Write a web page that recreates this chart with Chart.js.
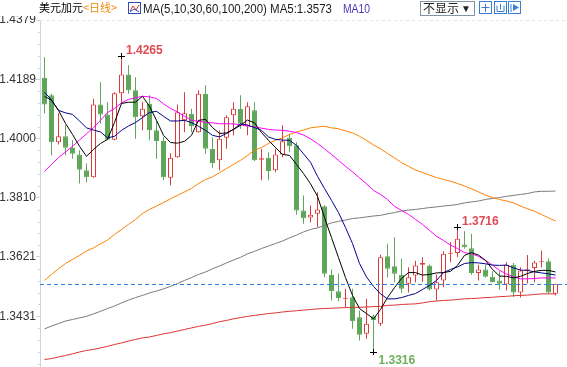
<!DOCTYPE html>
<html>
<head>
<meta charset="utf-8">
<script src="https://cdn.jsdelivr.net/npm/chart.js@4.4.0/dist/chart.umd.min.js"></script>
<style>
html, body { margin: 0; padding: 0; background: #fff; }
#wrap { width: 567px; height: 367px; position: relative; }
</style>
</head>
<body>
<div id="wrap"><canvas id="chart" width="567" height="367"></canvas></div>
<script>
// header texts
const pairName = '美元加元';
const periodName = '<日线>';
const maTitle = 'MA(5,10,30,60,100,200)';

// y axis tick labels
const yTicks = [1.3431, 1.3621, 1.3810, 1.4000, 1.4189, 1.4379];
const yMin = 1.3269;
const yMax = 1.4379;

// daily candles, oldest first
const opens = [1.4194, 1.4138, 1.3988, 1.4007, 1.3970, 1.3949, 1.3898, 1.3876, 1.4109, 1.4077,
  1.3996, 1.4145, 1.4205, 1.4154, 1.4071, 1.4111, 1.4026, 1.3992, 1.3874, 1.3940,
  1.4058, 1.4079, 1.4020, 1.4143, 1.3967, 1.3930, 1.4002, 1.4074, 1.4095, 1.4039,
  1.4090, 1.3932, 1.3938, 1.3898, 1.3949, 1.4002, 1.3978, 1.3770, 1.3747, 1.3759,
  1.3783, 1.3564, 1.3511, 1.3487, 1.3492, 1.3428, 1.3375, 1.3431, 1.3407, 1.3623,
  1.3591, 1.3564, 1.3535, 1.3562, 1.3596, 1.3594, 1.3517, 1.3546, 1.3631, 1.3634,
  1.3661, 1.3649, 1.3570, 1.3581, 1.3558, 1.3546, 1.3533, 1.3596, 1.3507, 1.3580,
  1.3586, 1.3604, 1.3607, 1.3503];
const highs = [1.4260, 1.4143, 1.4081, 1.4042, 1.3994, 1.3962, 1.3920, 1.4127, 1.4180, 1.4116,
  1.4148, 1.4265, 1.4234, 1.4196, 1.4116, 1.4138, 1.4058, 1.4004, 1.3953, 1.4109,
  1.4148, 1.4095, 1.4154, 1.4170, 1.4004, 1.4026, 1.4074, 1.4116, 1.4138, 1.4116,
  1.4116, 1.3967, 1.3956, 1.3967, 1.4042, 1.4015, 1.3988, 1.3818, 1.3786, 1.3828,
  1.3786, 1.3581, 1.3567, 1.3519, 1.3519, 1.3450, 1.3487, 1.3437, 1.3628, 1.3663,
  1.3684, 1.3615, 1.3588, 1.3609, 1.3620, 1.3597, 1.3565, 1.3639, 1.3668, 1.3716,
  1.3703, 1.3695, 1.3596, 1.3596, 1.3575, 1.3575, 1.3604, 1.3602, 1.3588, 1.3627,
  1.3609, 1.3642, 1.3617, 1.3535];
const lows = [1.4081, 1.3946, 1.3981, 1.3946, 1.3935, 1.3856, 1.3860, 1.3874, 1.4047, 1.3994,
  1.3994, 1.4111, 1.4143, 1.3999, 1.4026, 1.3994, 1.3935, 1.3866, 1.3850, 1.3938,
  1.4020, 1.4020, 1.4018, 1.3951, 1.3906, 1.3898, 1.3967, 1.4010, 1.4031, 1.4010,
  1.3928, 1.3866, 1.3866, 1.3892, 1.3940, 1.3956, 1.3756, 1.3727, 1.3732, 1.3716,
  1.3556, 1.3482, 1.3479, 1.3460, 1.3391, 1.3354, 1.3359, 1.3316, 1.3400, 1.3555,
  1.3540, 1.3506, 1.3507, 1.3539, 1.3541, 1.3514, 1.3482, 1.3524, 1.3604, 1.3620,
  1.3647, 1.3564, 1.3546, 1.3555, 1.3539, 1.3517, 1.3514, 1.3493, 1.3491, 1.3536,
  1.3540, 1.3588, 1.3503, 1.3498];
const closes = [1.4109, 1.3988, 1.4007, 1.3970, 1.3951, 1.3900, 1.3876, 1.4109, 1.4077, 1.3996,
  1.4145, 1.4205, 1.4154, 1.4068, 1.4095, 1.4026, 1.3992, 1.3876, 1.3938, 1.4084,
  1.4081, 1.4039, 1.4143, 1.3967, 1.3921, 1.3999, 1.4068, 1.4095, 1.4047, 1.4103,
  1.3930, 1.3937, 1.3896, 1.3949, 1.3991, 1.3975, 1.3770, 1.3745, 1.3756, 1.3773,
  1.3567, 1.3511, 1.3489, 1.3490, 1.3415, 1.3372, 1.3407, 1.3419, 1.3620, 1.3583,
  1.3567, 1.3519, 1.3556, 1.3594, 1.3602, 1.3517, 1.3540, 1.3631, 1.3634, 1.3679,
  1.3652, 1.3570, 1.3581, 1.3558, 1.3540, 1.3535, 1.3596, 1.3507, 1.3578, 1.3583,
  1.3603, 1.3607, 1.3507, 1.3535];

// moving averages
const ma5 = [1.4135, 1.4122, 1.4090, 1.4048, 1.4013, 1.3975, 1.3943, 1.3965, 1.3984, 1.3997,
  1.4051, 1.4112, 1.4116, 1.4116, 1.4135, 1.4103, 1.4058, 1.4010, 1.3987, 1.3985,
  1.3991, 1.4010, 1.4058, 1.4061, 1.4035, 1.4016, 1.4018, 1.4029, 1.4042, 1.4059,
  1.4050, 1.4019, 1.3994, 1.3971, 1.3949, 1.3946, 1.3917, 1.3888, 1.3855, 1.3815,
  1.3747, 1.3683, 1.3619, 1.3555, 1.3498, 1.3456, 1.3440, 1.3423, 1.3453, 1.3491,
  1.3523, 1.3552, 1.3571, 1.3571, 1.3563, 1.3565, 1.3570, 1.3571, 1.3575, 1.3594,
  1.3626, 1.3635, 1.3627, 1.3610, 1.3581, 1.3560, 1.3559, 1.3554, 1.3559, 1.3568,
  1.3575, 1.3578, 1.3578, 1.3573];
const ma10 = [1.4148, 1.4123, 1.4090, 1.4082, 1.4077, 1.4056, 1.4034, 1.4027, 1.4021, 1.4002,
  1.4007, 1.4026, 1.4040, 1.4051, 1.4067, 1.4083, 1.4087, 1.4071, 1.4056, 1.4056,
  1.4058, 1.4051, 1.4039, 1.4026, 1.4010, 1.4005, 1.4016, 1.4029, 1.4047, 1.4043,
  1.4035, 1.4026, 1.4005, 1.3997, 1.3995, 1.3994, 1.3978, 1.3951, 1.3924, 1.3879,
  1.3840, 1.3802, 1.3763, 1.3715, 1.3664, 1.3600, 1.3557, 1.3527, 1.3503, 1.3487,
  1.3487, 1.3491, 1.3498, 1.3504, 1.3517, 1.3530, 1.3546, 1.3571, 1.3581, 1.3589,
  1.3600, 1.3603, 1.3602, 1.3599, 1.3595, 1.3594, 1.3595, 1.3586, 1.3579, 1.3578,
  1.3573, 1.3570, 1.3567, 1.3563];
const ma30 = [1.3895, 1.3917, 1.3939, 1.3957, 1.3975, 1.3995, 1.4015, 1.4035, 1.4058, 1.4083,
  1.4096, 1.4114, 1.4125, 1.4130, 1.4135, 1.4133, 1.4128, 1.4111, 1.4096, 1.4085,
  1.4071, 1.4058, 1.4055, 1.4052, 1.4050, 1.4047, 1.4047, 1.4047, 1.4043, 1.4040,
  1.4037, 1.4033, 1.4029, 1.4027, 1.4026, 1.4023, 1.4019, 1.4011, 1.3999, 1.3984,
  1.3967, 1.3949, 1.3930, 1.3911, 1.3893, 1.3874, 1.3855, 1.3834, 1.3821, 1.3805,
  1.3783, 1.3770, 1.3757, 1.3741, 1.3725, 1.3706, 1.3687, 1.3674, 1.3659, 1.3648,
  1.3635, 1.3631, 1.3623, 1.3610, 1.3595, 1.3578, 1.3567, 1.3557, 1.3551, 1.3551,
  1.3552, 1.3554, 1.3554, 1.3554];
const ma60 = [1.3546, 1.3565, 1.3583, 1.3600, 1.3613, 1.3626, 1.3640, 1.3650, 1.3663, 1.3675,
  1.3693, 1.3709, 1.3725, 1.3741, 1.3760, 1.3773, 1.3784, 1.3795, 1.3807, 1.3818,
  1.3829, 1.3840, 1.3856, 1.3869, 1.3877, 1.3891, 1.3904, 1.3917, 1.3930, 1.3946,
  1.3962, 1.3971, 1.3984, 1.3994, 1.4002, 1.4013, 1.4021, 1.4027, 1.4034, 1.4037,
  1.4039, 1.4034, 1.4031, 1.4024, 1.4018, 1.4007, 1.3994, 1.3979, 1.3967, 1.3952,
  1.3938, 1.3923, 1.3911, 1.3899, 1.3891, 1.3883, 1.3875, 1.3869, 1.3863, 1.3856,
  1.3848, 1.3839, 1.3829, 1.3819, 1.3811, 1.3805, 1.3800, 1.3794, 1.3784, 1.3775,
  1.3767, 1.3757, 1.3746, 1.3736];
const ma100 = [1.3391, 1.3400, 1.3408, 1.3416, 1.3421, 1.3426, 1.3431, 1.3439, 1.3447, 1.3456,
  1.3464, 1.3474, 1.3483, 1.3491, 1.3498, 1.3506, 1.3512, 1.3519, 1.3527, 1.3536,
  1.3546, 1.3555, 1.3565, 1.3573, 1.3583, 1.3592, 1.3602, 1.3611, 1.3620, 1.3631,
  1.3639, 1.3648, 1.3656, 1.3664, 1.3672, 1.3682, 1.3691, 1.3701, 1.3709, 1.3714,
  1.3722, 1.3730, 1.3735, 1.3739, 1.3744, 1.3746, 1.3749, 1.3752, 1.3754, 1.3759,
  1.3763, 1.3768, 1.3771, 1.3773, 1.3776, 1.3779, 1.3781, 1.3784, 1.3786, 1.3789,
  1.3794, 1.3797, 1.3800, 1.3805, 1.3808, 1.3811, 1.3815, 1.3818, 1.3821, 1.3824,
  1.3829, 1.3831, 1.3831, 1.3832];
const ma200 = [1.3293, 1.3296, 1.3301, 1.3306, 1.3311, 1.3317, 1.3322, 1.3325, 1.3330, 1.3335,
  1.3341, 1.3346, 1.3352, 1.3357, 1.3362, 1.3365, 1.3370, 1.3375, 1.3379, 1.3384,
  1.3389, 1.3394, 1.3399, 1.3403, 1.3408, 1.3414, 1.3418, 1.3423, 1.3427, 1.3431,
  1.3434, 1.3437, 1.3440, 1.3442, 1.3445, 1.3447, 1.3449, 1.3451, 1.3453, 1.3455,
  1.3456, 1.3457, 1.3458, 1.3459, 1.3460, 1.3460, 1.3461, 1.3462, 1.3463, 1.3466,
  1.3467, 1.3469, 1.3470, 1.3471, 1.3474, 1.3478, 1.3480, 1.3482, 1.3483, 1.3485,
  1.3487, 1.3488, 1.3489, 1.3491, 1.3492, 1.3494, 1.3495, 1.3497, 1.3498, 1.3499,
  1.3501, 1.3503, 1.3503, 1.3503];

const RED = '#dd3c3c';
const GREEN = '#60a65a';
const AXIS = '#c8d6e0';
const FONT = '"Liberation Sans", Arial, sans-serif';
const CJK = '"Noto Sans CJK SC", sans-serif';

const idx = opens.map((_, i) => i);
const isUp = idx.map(i => closes[i] >= opens[i]);
const last = closes.length - 1;

function lineSet(label, values, color) {
  return {
    type: 'line',
    label: label,
    data: values.map((v, i) => ({ x: i, y: v })),
    borderColor: color,
    borderWidth: 1,
    pointRadius: 0,
    tension: 0,
    order: 0
  };
}

// dashed lines, minor ticks, extreme labels
const overlay = {
  id: 'overlay',
  beforeDatasetsDraw(chart) {
    const { ctx, chartArea: a, scales: { y } } = chart;
    ctx.save();
    ctx.strokeStyle = '#dde6e6';
    ctx.lineWidth = 1;
    ctx.setLineDash([3, 3]);
    ctx.beginPath();
    ctx.moveTo(a.left, a.top + 0.5);
    ctx.lineTo(a.right, a.top + 0.5);
    ctx.stroke();
    ctx.setLineDash([]);
    ctx.strokeStyle = AXIS;
    // minor ticks, 5 per major step
    const step = yTicks[1] - yTicks[0];
    for (let k = -10; k < 40; k++) {
      if (k % 5 === 0) continue;
      let v;
      if (k < 0) v = yTicks[0] + k * step / 5;
      else {
        const j = Math.floor(k / 5);
        if (j >= yTicks.length - 1) break;
        v = yTicks[j] + (yTicks[j + 1] - yTicks[j]) * (k % 5) / 5;
      }
      if (v < yMin) continue;
      const py = Math.round(y.getPixelForValue(v)) + 0.5;
      ctx.beginPath();
      ctx.moveTo(a.left - 2, py);
      ctx.lineTo(a.left, py);
      ctx.stroke();
    }
    ctx.restore();
  },
  afterDatasetsDraw(chart) {
    const { ctx, chartArea: a, scales: { x, y } } = chart;
    ctx.save();
    // last price line
    const ly = Math.round(y.getPixelForValue(closes[last])) + 0.5;
    ctx.strokeStyle = '#2f80e0';
    ctx.lineWidth = 1;
    ctx.setLineDash([4, 3]);
    ctx.beginPath();
    ctx.moveTo(a.left, ly);
    ctx.lineTo(a.right, ly);
    ctx.stroke();
    ctx.setLineDash([]);

    const hiIdx = highs.indexOf(Math.max(...highs));
    const loIdx = lows.indexOf(Math.min(...lows));
    const after = highs.slice(loIdx);
    const hi2Idx = loIdx + after.indexOf(Math.max(...after));

    function cross(px, py) {
      ctx.strokeStyle = '#000';
      ctx.beginPath();
      ctx.moveTo(px - 3.5, py + 0.5);
      ctx.lineTo(px + 3.5, py + 0.5);
      ctx.moveTo(px, py - 3);
      ctx.lineTo(px, py + 3);
      ctx.stroke();
    }
    ctx.font = 'bold 12px ' + FONT;
    ctx.textBaseline = 'alphabetic';
    ctx.textAlign = 'left';
    [hiIdx, hi2Idx].forEach(i => {
      const px = x.getPixelForValue(i);
      const py = Math.round(y.getPixelForValue(highs[i]));
      cross(px, py);
      ctx.fillStyle = '#e04b53';
      ctx.fillText(highs[i].toFixed(4), px + 4.5, py - 2);
    });
    const lx = x.getPixelForValue(loIdx);
    const lyy = Math.round(y.getPixelForValue(lows[loIdx]));
    cross(lx, lyy);
    ctx.fillStyle = '#6fae5c';
    ctx.fillText(lows[loIdx].toFixed(4), lx + 5, lyy + 12);
    ctx.restore();
  }
};

// title bar
const header = {
  id: 'header',
  afterDraw(chart) {
    const ctx = chart.ctx;
    ctx.save();
    ctx.fillStyle = '#fff';
    ctx.fillRect(0, 0, chart.width, 16);
    ctx.textBaseline = 'alphabetic';
    ctx.textAlign = 'left';

    ctx.font = '11px ' + CJK;
    ctx.fillStyle = '#000';
    ctx.fillText(pairName, 39, 12);
    ctx.fillStyle = '#f08a10';
    ctx.fillText(periodName, 83, 12, 37);

    // small chart icon
    ctx.strokeStyle = '#2a4fb0';
    ctx.lineWidth = 1;
    ctx.strokeRect(128.5, 2.5, 12, 11);
    ctx.strokeStyle = '#d03030';
    ctx.beginPath();
    ctx.moveTo(130, 11); ctx.lineTo(133, 6); ctx.lineTo(136, 10); ctx.lineTo(139, 5);
    ctx.stroke();
    ctx.strokeStyle = '#2a4fb0';
    ctx.beginPath();
    ctx.moveTo(130, 12); ctx.lineTo(134, 9); ctx.lineTo(139, 12);
    ctx.stroke();

    ctx.font = '12px ' + FONT;
    ctx.fillStyle = '#1a1a1a';
    ctx.fillText(maTitle + ' MA5:' + ma5[last].toFixed(4), 143, 13, 189);
    ctx.fillStyle = '#4a35b8';
    ctx.fillText('MA10', 343, 13, 27);

    // dropdown box
    ctx.strokeStyle = '#8494a6';
    ctx.strokeRect(420.5, 1.5, 54, 14);
    ctx.font = '12px ' + CJK;
    ctx.fillStyle = '#222';
    ctx.fillText('不显示', 423, 13, 37);
    ctx.font = '10px ' + FONT;
    ctx.fillText('▼', 461, 12);

    // tool icons
    ctx.strokeStyle = '#3a7fd5';
    [479.5, 494.5, 508.5].forEach(bx => ctx.strokeRect(bx, 1.5, 12, 12));
    ctx.beginPath();
    ctx.moveTo(485.5, 4); ctx.lineTo(485.5, 12);
    ctx.moveTo(481.5, 7.5); ctx.lineTo(489.5, 7.5);
    ctx.moveTo(497, 5.5); ctx.lineTo(497, 11.5); ctx.lineTo(504, 11.5); ctx.lineTo(504, 5.5);
    ctx.moveTo(500.5, 4); ctx.lineTo(500.5, 9.5);
    ctx.moveTo(511, 4); ctx.lineTo(511, 12);
    ctx.stroke();
    ctx.fillStyle = '#3a7fd5';
    ctx.beginPath();
    ctx.moveTo(513, 4); ctx.lineTo(519, 7.5); ctx.lineTo(513, 11); ctx.closePath();
    ctx.fill();
    ctx.restore();
  }
};

const ctx = document.getElementById('chart').getContext('2d');
new Chart(ctx, {
  type: 'bar',
  data: {
    datasets: [
      lineSet('MA5', ma5, '#000000'),
      lineSet('MA10', ma10, '#00008b'),
      lineSet('MA30', ma30, '#ff00ff'),
      lineSet('MA60', ma60, '#ff8000'),
      lineSet('MA100', ma100, '#7a7a7a'),
      lineSet('MA200', ma200, '#dd3333'),
      {
        label: 'body',
        data: idx.map(i => ({ x: i, y: [opens[i], closes[i]] })),
        backgroundColor: idx.map(i => isUp[i] ? '#ffffff' : GREEN),
        borderColor: idx.map(i => isUp[i] ? RED : GREEN),
        borderWidth: 1,
        borderSkipped: false,
        inflateAmount: 0,
        barThickness: 5,
        minBarLength: 1,
        grouped: false,
        order: 1
      },
      {
        label: 'wick',
        data: idx.map(i => ({ x: i, y: [lows[i], highs[i]] })),
        backgroundColor: idx.map(i => isUp[i] ? RED : GREEN),
        borderWidth: 0,
        inflateAmount: 0,
        barThickness: 1,
        grouped: false,
        order: 2
      }
    ]
  },
  options: {
    responsive: false,
    animation: false,
    devicePixelRatio: 1,
    layout: { padding: { top: 20, left: 0, right: 0, bottom: 0 } },
    plugins: { legend: { display: false }, tooltip: { enabled: false } },
    scales: {
      x: {
        type: 'linear',
        display: false,
        offset: false,
        min: -4.5 / 7,
        max: 522.5 / 7
      },
      y: {
        type: 'linear',
        position: 'left',
        min: yMin,
        max: yMax,
        afterBuildTicks(scale) {
          scale.ticks = yTicks.map(v => ({ value: v }));
        },
        afterFit(scale) {
          scale.width = 40;
          scale.paddingTop = 0;
          scale.paddingBottom = 0;
        },
        ticks: {
          padding: 0,
          color: '#333',
          font: { family: FONT, size: 12 },
          callback: v => Number(v).toFixed(4)
        },
        grid: { drawOnChartArea: false, drawTicks: true, tickLength: 4, color: AXIS },
        border: { display: true, color: AXIS }
      }
    }
  },
  plugins: [overlay, header]
});
</script>
</body>
</html>
